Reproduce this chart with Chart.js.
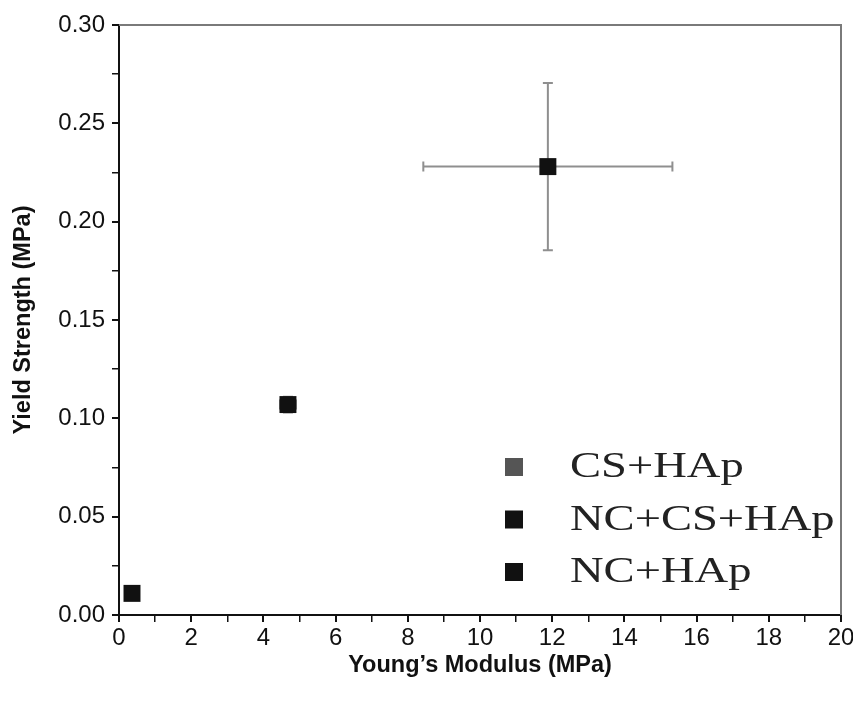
<!DOCTYPE html>
<html>
<head>
<meta charset="utf-8">
<script src="https://cdn.jsdelivr.net/npm/chart.js@4/dist/chart.umd.min.js"></script>
<style>
  html, body { margin: 0; padding: 0; background: #fff; }
  #wrap { width: 853px; height: 706px; }
</style>
</head>
<body>
<div id="wrap"><canvas id="c" width="853" height="706"></canvas></div>
<script>
// data
const groups = ['CS+HAp', 'NC+CS+HAp', 'NC+HAp']
const modulus = [0.36, 4.68, 11.88]        // Young's modulus (MPa)
const modulusErr = [0.0, 0.22, 3.45]
const strength = [0.011, 0.107, 0.228]     // yield strength (MPa)
const strengthErr = [0.0, 0.004, 0.0425]
const pointColors = ['#111111', '#111111', '#111111']
const legendColors = ['#555555', '#111111', '#111111']

const sans = "'Liberation Sans', Arial, sans-serif"
const serif = "'Liberation Serif', 'Times New Roman', serif"

// error bars, drawn through the chart's scales
const errorBars = {
  id: 'errorBars',
  beforeDatasetsDraw(chart) {
    const { ctx, scales: { x, y } } = chart
    ctx.save()
    ctx.strokeStyle = '#8f8f8f'
    ctx.lineWidth = 2
    groups.forEach((g, i) => {
      const cx = x.getPixelForValue(modulus[i])
      const cy = y.getPixelForValue(strength[i])
      const cap = 5
      if (modulusErr[i] > 0) {
        const x0 = x.getPixelForValue(modulus[i] - modulusErr[i])
        const x1 = x.getPixelForValue(modulus[i] + modulusErr[i])
        ctx.beginPath()
        ctx.moveTo(x0, cy); ctx.lineTo(x1, cy)
        ctx.moveTo(x0, cy - cap); ctx.lineTo(x0, cy + cap)
        ctx.moveTo(x1, cy - cap); ctx.lineTo(x1, cy + cap)
        ctx.stroke()
      }
      if (strengthErr[i] > 0) {
        const y0 = y.getPixelForValue(strength[i] - strengthErr[i])
        const y1 = y.getPixelForValue(strength[i] + strengthErr[i])
        ctx.beginPath()
        ctx.moveTo(cx, y0); ctx.lineTo(cx, y1)
        ctx.moveTo(cx - cap, y0); ctx.lineTo(cx + cap, y0)
        ctx.moveTo(cx - cap, y1); ctx.lineTo(cx + cap, y1)
        ctx.stroke()
      }
    })
    ctx.restore()
  }
}

// top/right frame + legend inside the plot
const frameAndLegend = {
  id: 'frameAndLegend',
  afterDraw(chart) {
    const { ctx, chartArea: a } = chart
    ctx.save()
    ctx.strokeStyle = '#7a7a7a'
    ctx.lineWidth = 2
    ctx.beginPath()
    ctx.moveTo(a.left, a.top); ctx.lineTo(a.right, a.top); ctx.lineTo(a.right, a.bottom)
    ctx.stroke()

    // the legend type in the original is a wide serif, so stretch it sideways
    ctx.font = '35px ' + serif
    ctx.textBaseline = 'middle'
    chart.data.datasets.forEach((ds, i) => {
      const ly = 467 + i * 52.5
      ctx.fillStyle = legendColors[i]
      ctx.fillRect(505, ly - 9, 18, 18)
      ctx.fillStyle = '#222'
      ctx.save()
      ctx.translate(570, ly + 1)
      ctx.scale(1.33, 1)
      ctx.fillText(ds.label, 0, 0)
      ctx.restore()
    })
    ctx.restore()
  }
}

new Chart(document.getElementById('c'), {
  type: 'scatter',
  data: {
    datasets: groups.map((g, i) => ({
      label: g,
      data: [{ x: modulus[i], y: strength[i] }],
      pointStyle: 'rect',
      pointRadius: 12,
      pointHoverRadius: 12,
      backgroundColor: pointColors[i],
      borderColor: pointColors[i],
      borderWidth: 0
    }))
  },
  options: {
    responsive: false,
    animation: false,
    layout: { padding: { top: 25, right: 0, left: 0, bottom: 0 } },
    plugins: { legend: { display: false }, tooltip: { enabled: false } },
    scales: {
      x: {
        type: 'linear',
        min: 0, max: 20,
        afterFit(s) { s.height = 91; s.paddingRight = 12 },
        border: { color: '#111', width: 2 },
        grid: { drawOnChartArea: false, tickLength: 7, color: '#111',
          lineWidth: c => (c.tick && c.tick.value % 2 === 0 ? 2 : 1.5) },
        ticks: {
          stepSize: 1, autoSkip: false, maxRotation: 0, padding: 2,
          color: '#111', font: { family: sans, size: 24 },
          callback: v => (v % 2 === 0 ? String(v) : '')
        },
        title: {
          display: true, text: 'Young\u2019s Modulus (MPa)', color: '#111',
          font: { family: sans, size: 23.5, weight: 'bold' }, padding: { top: 0, bottom: 26 }
        }
      },
      y: {
        type: 'linear',
        min: 0, max: 0.30,
        afterFit(s) { s.width = 119 },
        border: { color: '#111', width: 2 },
        grid: { drawOnChartArea: false, tickLength: 7, color: '#111',
          lineWidth: c => (c.tick && Math.round(c.tick.value * 1000) % 50 === 0 ? 2 : 1.5) },
        ticks: {
          stepSize: 0.025, autoSkip: false, padding: 7,
          color: '#111', font: { family: sans, size: 24 },
          callback: v => (Math.round(v * 1000) % 50 === 0 ? v.toFixed(2) : '')
        },
        title: {
          display: true, text: 'Yield Strength (MPa)', color: '#111',
          font: { family: sans, size: 23.5, weight: 'bold' }, padding: { top: 9, bottom: 0 }
        }
      }
    }
  },
  plugins: [errorBars, frameAndLegend]
})
</script>
</body>
</html>
